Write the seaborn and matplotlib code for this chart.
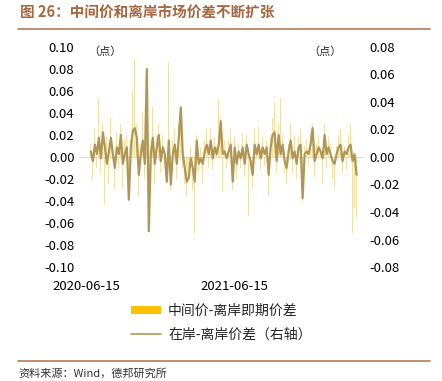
import matplotlib
matplotlib.use('Agg')
import matplotlib.pyplot as plt
import matplotlib.dates as mdates
from matplotlib.patches import Patch
from matplotlib.lines import Line2D
import seaborn as sns
import numpy as np
import pandas as pd

# Series (left axis: bars, right axis: line)
spot_spread = [
    0.012, -0.020, 0.025, -0.010, 0.054, -0.015, 0.030, -0.043, 0.018, -0.025,
    0.035, 0.010, -0.030, 0.022, -0.012, 0.030, -0.028, 0.015, 0.020, -0.040,
    0.015, 0.060, 0.090, 0.030, -0.035, 0.012, 0.040, -0.020, 0.070, -0.068,
    0.010, 0.045, -0.025, 0.020,
    0.030, -0.015, 0.020, -0.010, -0.025, 0.086, -0.030, 0.015, 0.025, -0.020,
    0.030, 0.045, -0.010, -0.025, -0.035, -0.020, 0.010, -0.030, -0.070, 0.020,
    -0.015, 0.008, -0.025, 0.015, 0.025, -0.010, 0.025, -0.012, 0.018, 0.010,
    0.052, 0.035, -0.031, 0.015, -0.010,
    0.015, 0.025, -0.030, 0.018, -0.020, 0.012, -0.010, 0.022, -0.018, 0.020,
    -0.054, -0.012, -0.028, 0.025, 0.008, 0.028, -0.012, 0.018, -0.008, 0.015,
    -0.035, 0.020, 0.035, 0.050, -0.015, 0.030, 0.054, 0.020, -0.015, -0.025,
    0.012, 0.030,
    -0.015, 0.020, -0.020, 0.018, 0.025, -0.040, 0.010, 0.015, -0.008, 0.022,
    0.030, -0.018, 0.012, 0.020, 0.008, -0.025, 0.030, -0.010, 0.018, 0.012,
    -0.020, -0.028, 0.010, 0.020, 0.025, -0.015, 0.010, -0.012, 0.020, 0.030,
    -0.069, -0.046, -0.055,
]

onshore_spread = [
    0.004, -0.003, 0.009, 0.002, 0.014, -0.001, 0.018, 0.007, -0.005, 0.004,
    0.014, 0.002, -0.008, 0.007, 0.002, 0.016, -0.005, 0.002, 0.007, -0.031,
    0.007, 0.019, 0.021, 0.014, -0.013, 0.002, 0.012, -0.005, 0.064, -0.054,
    0.002, 0.014, -0.005, 0.007,
    0.016, -0.003, 0.007, 0.002, -0.018, 0.012, -0.020, 0.002, 0.009, -0.005,
    0.014, 0.036, 0.002, -0.008, -0.018, -0.015, -0.001, -0.008, -0.018, 0.012,
    -0.005, -0.001, -0.005, 0.004, 0.009, 0.002, 0.012, -0.001, 0.007, 0.002,
    0.009, 0.026, 0.002, 0.004, -0.001,
    0.004, 0.009, -0.018, 0.007, -0.005, 0.004, -0.001, 0.007, -0.005, 0.009,
    0.002, -0.003, -0.013, 0.009, 0.002, 0.009, -0.001, 0.007, 0.002, 0.007,
    -0.013, 0.007, 0.016, 0.018, -0.003, 0.016, 0.002, 0.009, -0.003, -0.008,
    0.004, 0.012,
    -0.001, 0.004, -0.005, 0.007, 0.009, -0.030, 0.002, 0.004, 0.002, 0.009,
    0.021, -0.003, 0.002, 0.007, 0.004, -0.001, 0.016, 0.002, 0.007, 0.002,
    -0.003, -0.005, 0.002, 0.007, 0.009, -0.003, 0.004, 0.002, 0.007, 0.009,
    -0.003, 0.002, -0.013,
]

start_date = '2020-06-25'
end_date = '2022-04-15'
tick_dates = ['2020-06-15', '2021-06-15']
bar_label = '中间价-离岸即期价差'
line_label = '在岸-离岸价差（右轴）'

BAR_COLOR = '#FFC000'
LINE_COLOR = '#B09755'
TITLE_COLOR = '#A5673F'
RULE_COLOR = '#B07C55'

sns.set_style('white')
plt.rcParams['font.family'] = ['Noto Sans CJK SC', 'DejaVu Sans']
plt.rcParams['axes.unicode_minus'] = False

dates = pd.date_range(start_date, end_date, periods=len(onshore_spread))
xnum = mdates.date2num(dates)
df = pd.DataFrame({'x': xnum, 'bar': spot_spread, 'line': onshore_spread})

fig = plt.figure(figsize=(4.42, 3.81), dpi=100)
ax = fig.add_axes([0.181, 0.299, 0.643, 0.578])
ax2 = ax.twinx()

# Bars on left axis
sns.barplot(data=df, x='x', y='bar', native_scale=True, width=0.45,
            color=BAR_COLOR, alpha=0.4, linewidth=0, ax=ax)
ax.axhline(0, color='#D9D9D9', lw=0.8, zorder=0)

# Line on right axis
sns.lineplot(data=df, x='x', y='line', color=LINE_COLOR, lw=1.6, ax=ax2)

ax.set_ylim(-0.10, 0.10)
ax2.set_ylim(-0.08, 0.08)
ax.set_yticks(np.arange(-0.10, 0.101, 0.02))
ax2.set_yticks(np.arange(-0.08, 0.081, 0.02))
ax.yaxis.set_major_formatter(plt.FormatStrFormatter('%.2f'))
ax2.yaxis.set_major_formatter(plt.FormatStrFormatter('%.2f'))

ax.set_xlim(mdates.date2num(pd.Timestamp('2020-05-29')),
            mdates.date2num(pd.Timestamp('2022-05-04')))
ax.set_xticks(mdates.date2num(pd.to_datetime(tick_dates)))
ax.set_xticklabels(tick_dates)

for a in (ax, ax2):
    a.set_xlabel('')
    a.set_ylabel('')
    for s in a.spines.values():
        s.set_visible(False)
    a.tick_params(length=0, labelsize=9.5, colors='black', pad=4)
ax.tick_params(axis='x', pad=9)

fig.text(88 / 442, 1 - 52 / 381, '（点）', fontsize=8, va='center', ha='left')
fig.text(342 / 442, 1 - 52 / 381, '（点）', fontsize=8, va='center', ha='right')

# Title and rules
fig.text(20 / 442, 1 - 13 / 381, '图 26：中间价和离岸市场价差不断扩张', fontsize=10.5,
         fontweight='bold', color=TITLE_COLOR, va='center', ha='left')
fig.add_artist(Line2D([18 / 442, 430 / 442], [1 - 29 / 381, 1 - 29 / 381],
                      color=RULE_COLOR, lw=1.2))
fig.add_artist(Line2D([18 / 442, 430 / 442], [1 - 361 / 381, 1 - 361 / 381],
                      color=RULE_COLOR, lw=1.2))
fig.text(18 / 442, 1 - 373 / 381, '资料来源：Wind，德邦研究所', fontsize=8,
         color='#333333', va='center', ha='left')

# Legend
handles = [Patch(facecolor=BAR_COLOR, edgecolor='none'),
           Line2D([0], [0], color=LINE_COLOR, lw=1.2)]
fig.legend(handles, [bar_label, line_label], loc='upper left',
           bbox_to_anchor=(125 / 442, 1 - 298 / 381), frameon=False,
           fontsize=10, handlelength=2.2, handleheight=0.5, labelspacing=0.7,
           handletextpad=0.5, borderaxespad=0)

plt.savefig('out.png', dpi=100)
